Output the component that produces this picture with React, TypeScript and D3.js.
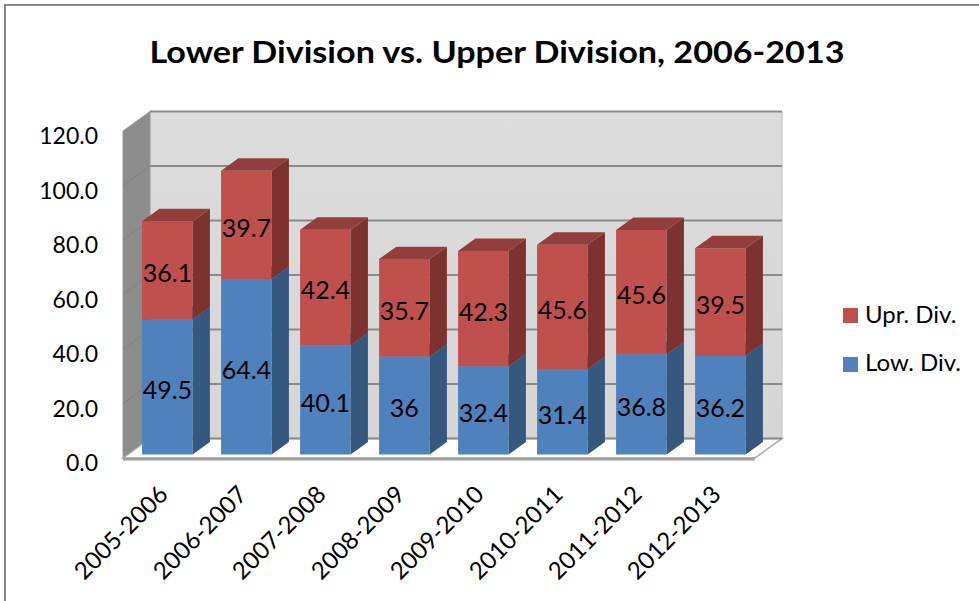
import React, { useEffect, useRef } from 'react';
import * as d3 from 'd3';

const categories = ['2005-2006', '2006-2007', '2007-2008', '2008-2009', '2009-2010', '2010-2011', '2011-2012', '2012-2013'];
const lowDiv = [49.5, 64.4, 40.1, 36, 32.4, 31.4, 36.8, 36.2];
const uprDiv = [36.1, 39.7, 42.4, 35.7, 42.3, 45.6, 45.6, 39.5];
const yTicks = [0, 20, 40, 60, 80, 100, 120];
const seriesNames = ['Upr. Div.', 'Low. Div.'];

const FONT = 'Lato, "Open Sans", sans-serif';
// depth vector of the 3d box
const DX = 27;
const DY = -19.5;

function App() {
  const node = useRef<SVGSVGElement | null>(null);

  useEffect(() => {
    const svg = d3.select(node.current);
    svg.selectAll('*').remove();

    const x = d3.scaleBand<string>()
      .domain(categories)
      .range([123, 755])
      .paddingInner(0.36)
      .paddingOuter(0.18);
    const y = d3.scaleLinear().domain([0, 120]).range([458, 131]);

    const proj = (px: number, v: number, z: number): [number, number] => [px + z * DX, y(v) + z * DY];
    const poly = (pts: [number, number][]) => pts.map(p => p.join(',')).join(' ');

    // outer frame
    svg.append('rect')
      .attr('x', 5).attr('y', 5).attr('width', 1000).attr('height', 700)
      .attr('fill', 'white').attr('stroke', '#888').attr('stroke-width', 2);

    const defs = svg.append('defs');
    const g1 = defs.append('linearGradient').attr('id', 'backwall').attr('x1', 0).attr('x2', 0).attr('y1', 0).attr('y2', 1);
    g1.append('stop').attr('offset', '0%').attr('stop-color', '#dcdcdc');
    g1.append('stop').attr('offset', '100%').attr('stop-color', '#d6d6d6');

    const left = x.range()[0];
    const right = x.range()[1];

    // back wall
    svg.append('polygon')
      .attr('points', poly([proj(left, 0, 1), proj(right, 0, 1), proj(right, 120, 1), proj(left, 120, 1)]))
      .attr('fill', 'url(#backwall)').attr('stroke', '#c4c4c4').attr('stroke-width', 1);

    // side wall
    svg.append('polygon')
      .attr('points', poly([proj(left, 0, 0), proj(left, 0, 1), proj(left, 120, 1), proj(left, 120, 0)]))
      .attr('fill', '#8c8c8c').attr('stroke', '#9a9a9a').attr('stroke-width', 1);

    // gridlines
    svg.append('g').selectAll('line.back')
      .data(yTicks.filter(d => d > 0))
      .enter().append('line')
      .attr('x1', d => proj(left, d, 1)[0]).attr('y1', d => proj(left, d, 1)[1])
      .attr('x2', d => proj(right, d, 1)[0]).attr('y2', d => proj(right, d, 1)[1])
      .attr('stroke', '#8a8a8a').attr('stroke-width', 2);
    svg.append('g').selectAll('line.side')
      .data(yTicks.filter(d => d > 0 && d < 120))
      .enter().append('line')
      .attr('x1', d => proj(left, d, 0)[0]).attr('y1', d => proj(left, d, 0)[1])
      .attr('x2', d => proj(left, d, 1)[0]).attr('y2', d => proj(left, d, 1)[1])
      .attr('stroke', '#828282').attr('stroke-width', 1);

    // floor
    svg.append('polygon')
      .attr('points', poly([proj(left, 0, 0), proj(right, 0, 0), proj(right, 0, 1), proj(left, 0, 1)]))
      .attr('fill', 'white').attr('stroke', '#a6a6a6').attr('stroke-width', 1.5);
    svg.append('line')
      .attr('x1', left).attr('y1', y(0) + 1).attr('x2', right).attr('y2', y(0) + 1)
      .attr('stroke', '#a0a0a0').attr('stroke-width', 3);
    svg.append('line')
      .attr('x1', proj(left, 0, 1)[0]).attr('y1', proj(left, 0, 1)[1])
      .attr('x2', proj(right, 0, 1)[0]).attr('y2', proj(right, 0, 1)[1])
      .attr('stroke', '#8a8a8a').attr('stroke-width', 2);

    // y axis labels
    svg.append('g').selectAll('text')
      .data(yTicks)
      .enter().append('text')
      .attr('x', 98)
      .attr('y', d => y(d) + 4)
      .attr('text-anchor', 'end')
      .attr('dominant-baseline', 'central')
      .style('font-family', FONT).style('font-size', '23px').attr('fill', '#000')
      .text(d => d.toFixed(1));

    // bars
    const z0 = 0.18;
    const z1 = 0.82;
    const bw = x.bandwidth();
    const colors = {
      low: { front: '#4f81bd', side: '#36587f', top: '#3d6596' },
      upr: { front: '#c0504d', side: '#7d3230', top: '#923f3c' }
    };

    const bars = svg.append('g');
    categories.forEach((c, i) => {
      const x0 = x(c) as number;
      const x1 = x0 + bw;
      const segs = [
        { v0: 0, v1: lowDiv[i], col: colors.low, val: lowDiv[i] },
        { v0: lowDiv[i], v1: lowDiv[i] + uprDiv[i], col: colors.upr, val: uprDiv[i] }
      ];
      segs.forEach(s => {
        bars.append('polygon')
          .attr('points', poly([proj(x0, s.v0, z0), proj(x1, s.v0, z0), proj(x1, s.v1, z0), proj(x0, s.v1, z0)]))
          .attr('fill', s.col.front);
        bars.append('polygon')
          .attr('points', poly([proj(x1, s.v0, z0), proj(x1, s.v0, z1), proj(x1, s.v1, z1), proj(x1, s.v1, z0)]))
          .attr('fill', s.col.side);
        bars.append('polygon')
          .attr('points', poly([proj(x0, s.v1, z0), proj(x1, s.v1, z0), proj(x1, s.v1, z1), proj(x0, s.v1, z1)]))
          .attr('fill', s.col.top);
      });
      segs.forEach(s => {
        const p = proj(x0 + bw / 2, (s.v0 + s.v1) / 2, z0);
        bars.append('text')
          .attr('x', p[0]).attr('y', p[1] + 2)
          .attr('text-anchor', 'middle')
          .attr('dominant-baseline', 'central')
          .style('font-family', FONT).style('font-size', '25px').attr('fill', '#000')
          .text(String(s.val));
      });
    });

    // x axis labels
    svg.append('g').selectAll('text')
      .data(categories)
      .enter().append('text')
      .attr('transform', d => `translate(${(x(d) as number) + bw / 2 + z0 * DX + 2},${496}) rotate(-45)`)
      .attr('text-anchor', 'end')
      .style('font-family', FONT).style('font-size', '24px').attr('fill', '#000')
      .text(d => d);

    // legend
    const legendColors = [colors.upr.front, colors.low.front];
    const legend = svg.append('g');
    seriesNames.forEach((name, i) => {
      legend.append('rect')
        .attr('x', 843).attr('y', 308 + i * 49).attr('width', 15).attr('height', 15)
        .attr('fill', legendColors[i]);
      legend.append('text')
        .attr('x', 865).attr('y', 323 + i * 48)
        .style('font-family', FONT).style('font-size', '24px').attr('fill', '#000')
        .text(name);
    });

    // title
    svg.append('text')
      .attr('x', 497).attr('y', 63)
      .attr('text-anchor', 'middle')
      .attr('textLength', 695)
      .attr('lengthAdjust', 'spacingAndGlyphs')
      .style('font-family', FONT).style('font-size', '30px').style('font-weight', 'bold').attr('fill', '#000')
      .text('Lower Division vs. Upper Division, 2006-2013');
  }, []);

  return (
    <svg ref={node} width={979} height={601} style={{ position: 'absolute', left: 0, top: 0 }}></svg>
  );
}

export default App;
